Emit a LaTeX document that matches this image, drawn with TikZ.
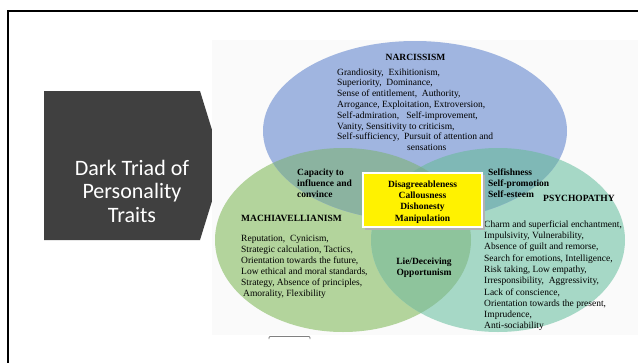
\documentclass[tikz,border=0pt]{standalone}
\usepackage{fontspec}
\setmainfont{Liberation Serif}
\newfontfamily\carlito{Carlito}
\definecolor{chev}{HTML}{404040}
\definecolor{imgbg}{HTML}{FAFAFA}
\definecolor{cblue}{HTML}{A0B5E0}
\definecolor{cgreen}{HTML}{B3D49C}
\definecolor{cteal}{HTML}{A6D8C6}
\definecolor{cbg}{HTML}{8BB3A0}
\definecolor{cbt}{HTML}{7FB8B6}
\definecolor{cgt}{HTML}{8EC49C}
\definecolor{cbgt}{HTML}{7CAE98}
\definecolor{cyel}{HTML}{FFF200}
\tikzset{
  body/.style={inner sep=0pt, font=\fontsize{9.5}{11}\selectfont, align=left, anchor=north west},
  bodyb/.style={inner sep=0pt, font=\bfseries\fontsize{9.5}{11}\selectfont, align=left, anchor=north west},
  head/.style={inner sep=0pt, font=\bfseries\fontsize{9.5}{11}\selectfont},
}
\def\blueE{(415,131) ellipse [x radius=152pt, y radius=90pt]}
\def\greenE{(343,240) ellipse [x radius=128pt, y radius=92pt]}
\def\tealE{(498,240) ellipse [x radius=127pt, y radius=92pt]}
\begin{document}
\begin{tikzpicture}[x=1pt,y=-1pt]
\useasboundingbox (0,0) rectangle (638,362);
\clip (0,0) rectangle (638,362);
\fill[white] (0,0) rectangle (638,362);
% frame
\draw[line width=2.4pt] (8.2,380) -- (8.2,11.2) -- (660,11.2);
% chevron
\fill[chev] (44,91) -- (200,91) -- (223,165.5) -- (200,240) -- (44,240) -- cycle;
\node[text=white, align=center, inner sep=0pt, anchor=north, font=\carlito\fontsize{22}{23.5}\selectfont] (title) at (132,159.6) {Dark Triad of\\Personality\\Traits};
% image background
\fill[imgbg] (212,40) rectangle (645,335);
\draw[gray, line width=0.8pt, rounded corners=1pt] (269,339) -- (269,336.5) -- (310,336.5) -- (310,339);
% ellipses
\fill[cgreen] \greenE;
\fill[cteal] \tealE;
\fill[cblue] \blueE;
\begin{scope}\clip \blueE; \fill[cbg] \greenE; \end{scope}
\begin{scope}\clip \blueE; \fill[cbt] \tealE; \end{scope}
\begin{scope}\clip \greenE; \fill[cgt] \tealE; \end{scope}
\begin{scope}\clip \blueE; \clip \greenE; \fill[cbgt] \tealE; \end{scope}
% narcissism
\node[head] (narc) at (415.5,57) {NARCISSISM};
\node[body, font=\fontsize{9.5}{10.8}\selectfont] (narcbody) at (337,68.4) {Grandiosity,~~Exihitionism,\\Superiority,~~Dominance,\\Sense of entitlement,~~Authority,\\Arrogance, Exploitation, Extroversion,\\Self-admiration,~~~Self-improvement,\\Vanity, Sensitivity to criticism,\\Self-sufficiency,~~Pursuit of attention and\\\hspace*{70pt}sensations};
% machiavellianism
\node[bodyb] (capac) at (297,168.4) {Capacity to\\influence and\\convince};
\node[head, anchor=west] (mach) at (241,218) {MACHIAVELLIANISM};
\node[body] (machbody) at (241,235.4) {Reputation,~~Cynicism,\\Strategic calculation, Tactics,\\Orientation towards the future,\\Low ethical and moral standards,\\Strategy, Absence of principles,\\\hspace*{2pt}Amorality, Flexibility};
% psychopathy
\node[bodyb] (selfish) at (488,168.4) {Selfishness\\Self-promotion\\Self-esteem};
\node[head, anchor=west] (psych) at (543,198) {PSYCHOPATHY};
\node[body, font=\fontsize{9.5}{11.3}\selectfont] (psychbody) at (484,220.4) {Charm and superficial enchantment,\\Impulsivity, Vulnerability,\\Absence of guilt and remorse,\\Search for emotions, Intelligence,\\Risk taking, Low empathy,\\Irresponsibility,~~Aggressivity,\\Lack of conscience,\\Orientation towards the present,\\Imprudence,\\Anti-sociability};
\node[bodyb, align=center, anchor=north] (lie) at (424,257.4) {Lie/Deceiving\\Opportunism};
% yellow box
\fill[black!30] (365,175) rectangle (484.5,229.5);
\draw[white, line width=1.6pt, fill=cyel] (363,173) rectangle (482,227);
\node[bodyb, align=center, anchor=north, font=\bfseries\fontsize{9.5}{11.3}\selectfont] (core) at (422.5,180.4) {Disagreeableness\\Callousness\\Dishonesty\\Manipulation};
\end{tikzpicture}
\end{document}
